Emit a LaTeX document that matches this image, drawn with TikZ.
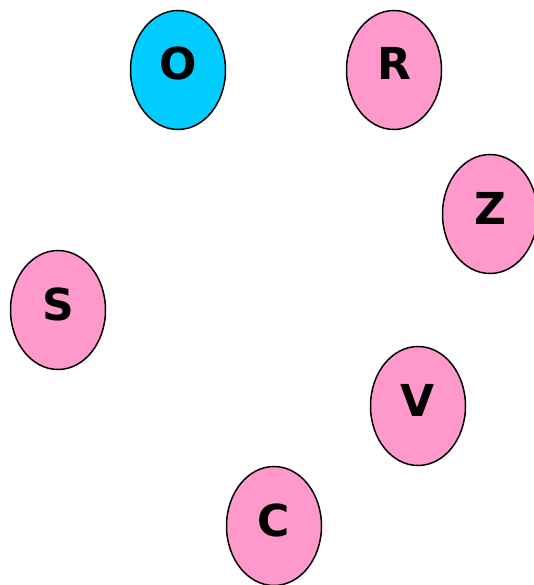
\documentclass[tikz,border=0pt]{standalone}
\usepackage{fontspec}
\setmainfont{DejaVu Sans}
\usetikzlibrary{shapes.geometric}
\definecolor{pinkfill}{HTML}{FF99CC}
\definecolor{cyanfill}{HTML}{00CCFF}
\tikzset{
  vert/.style={ellipse, draw=black, line width=1.5pt, minimum width=95pt, minimum height=119pt, inner sep=0pt, text height=20pt, text depth=0pt, font=\fontsize{44}{50}\selectfont\bfseries, text=black},
  pinkv/.style={vert, fill=pinkfill},
  cyanv/.style={vert, fill=cyanfill}
}
\begin{document}
\begin{tikzpicture}[x=1pt,y=1pt]
\useasboundingbox (0,0) rectangle (533,-585);
\node[cyanv] (O) at (178,-70) {O};
\node[pinkv] (R) at (394,-70) {R};
\node[pinkv] (Z) at (490,-214) {Z};
\node[pinkv] (S) at (58,-310) {S};
\node[pinkv] (V) at (418,-406) {V};
\node[pinkv] (C) at (274,-526) {C};
\end{tikzpicture}
\end{document}
